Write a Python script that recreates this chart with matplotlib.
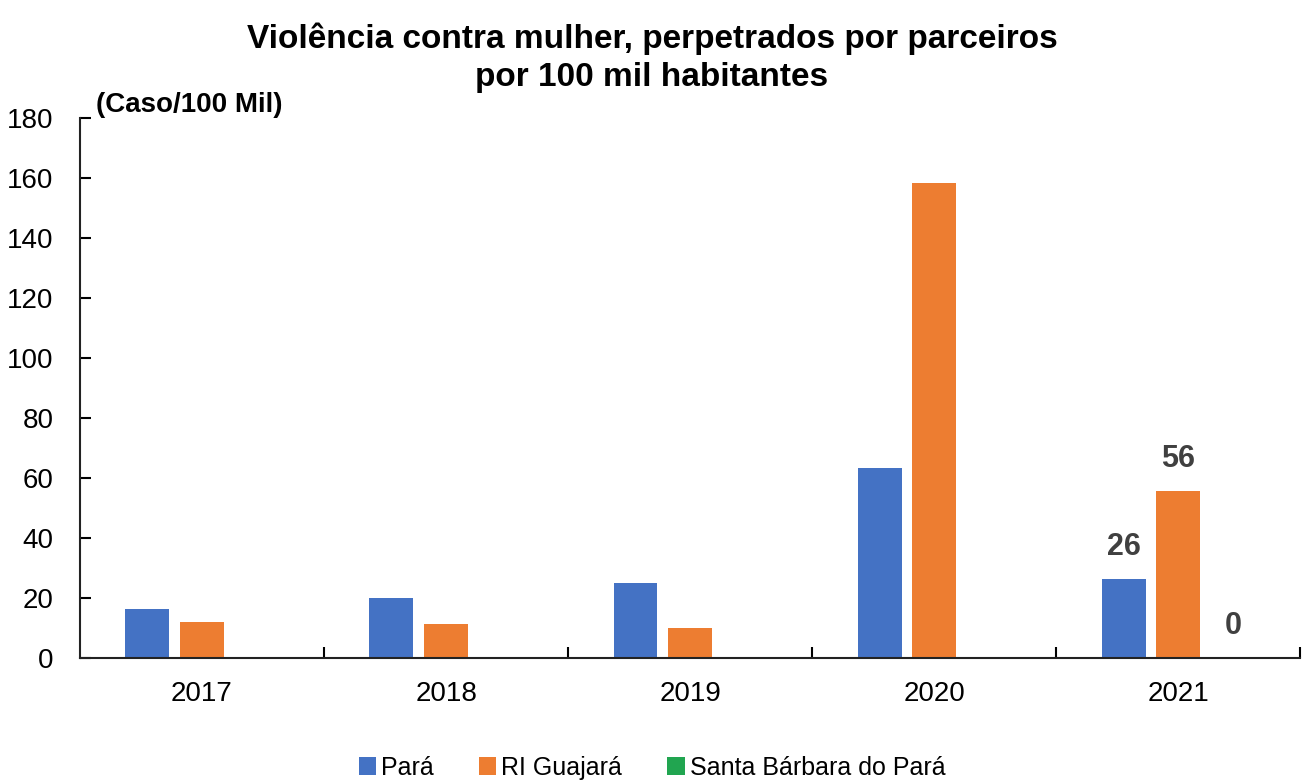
import numpy as np
import matplotlib.pyplot as plt

plt.rcParams['font.family'] = ['Liberation Sans Narrow', 'Liberation Sans', 'DejaVu Sans']

years = ['2017', '2018', '2019', '2020', '2021']
para = [16.2, 19.8, 24.9, 63.3, 26.4]
ri_guajara = [11.9, 11.2, 9.9, 158.4, 55.7]
santa_barbara = [0, 0, 0, 0, 0]
series_names = ['Pará', 'RI Guajará', 'Santa Bárbara do Pará']
colors = ['#4472C4', '#ED7D31', '#21A550']

fig = plt.figure(figsize=(13.04, 7.81), dpi=100)
ax = fig.add_axes([0.0613, 0.158, 0.936, 0.6905])

x = np.arange(len(years))
width = 0.18
step = 0.224
series = [para, ri_guajara, santa_barbara]
bars = []
for i, (vals, name, c) in enumerate(zip(series, series_names, colors)):
    b = ax.bar(x + (i - 1) * step, vals, width, color=c, label=name)
    bars.append(b)

# data labels only on the last year
for b in bars:
    rect = b[-1]
    h = rect.get_height()
    ax.annotate(f'{h:.0f}', (rect.get_x() + rect.get_width() / 2, h),
                xytext=(0, 17), textcoords='offset points',
                ha='center', va='baseline', fontsize=22,
                fontweight='bold', color='#404040')

ax.set_xlim(-0.5, len(years) - 0.5)
ax.set_ylim(0, 180)
ax.set_yticks(range(0, 181, 20))
ax.set_xticks(x)
ax.set_xticklabels(years)
ax.set_xticks(np.arange(len(years)) + 0.5, minor=True)
ax.tick_params(axis='x', which='major', length=0, labelsize=20, pad=17)
ax.tick_params(axis='x', which='minor', direction='in', length=8, width=1.5)
ax.tick_params(axis='y', direction='in', length=8, width=1.5, labelsize=20, pad=19)

for side in ['top', 'right']:
    ax.spines[side].set_visible(False)
for side in ['left', 'bottom']:
    ax.spines[side].set_linewidth(1.5)
    ax.spines[side].set_color('#222222')

fig.text(0.5, 0.926, 'Violência contra mulher, perpetrados por parceiros\npor 100 mil habitantes',
         ha='center', va='center', fontsize=24, fontweight='bold', linespacing=1.3)
fig.text(0.074, 0.866, '(Caso/100 Mil)', ha='left', va='center',
         fontsize=20, fontweight='bold')

ax.legend(loc='center', bbox_to_anchor=(0.5, 0.017), bbox_transform=fig.transFigure,
          ncol=3, frameon=False, fontsize=18, handlelength=0.7, handleheight=0.7,
          handletextpad=0.2, columnspacing=1.8)

fig.savefig('out.png', dpi=100)
